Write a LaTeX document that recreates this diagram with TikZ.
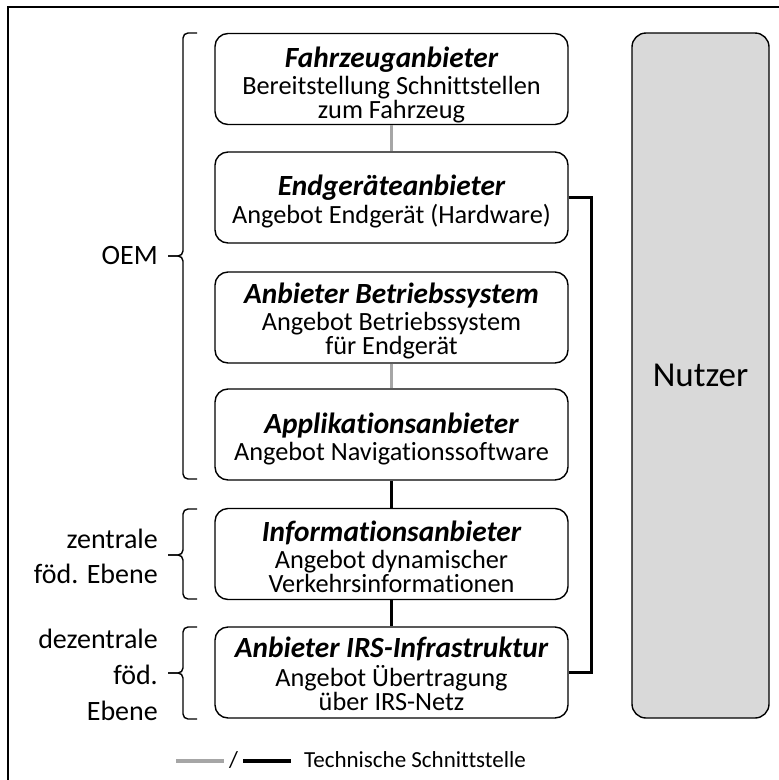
\documentclass[tikz,border=0pt]{standalone}
\usepackage{fontspec}
\setmainfont{Carlito}[Ligatures=CommonOff]
\definecolor{linkgray}{HTML}{A6A6A6}
\definecolor{userfill}{HTML}{D9D9D9}
\newcommand\provtitle[1]{{\fontsize{29.3}{26}\selectfont\bfseries\itshape #1}}
\begin{document}
\begin{tikzpicture}[x=1pt,y=-1pt,
  provider/.style={draw, line width=1.4pt, rounded corners=13pt,
    minimum width=353pt, minimum height=91pt, inner sep=0pt},
  provtext/.style={align=center, inner sep=0pt,
    font=\fontsize{26.3}{24}\selectfont},
  userbox/.style={draw, line width=1.4pt, rounded corners=14pt, fill=userfill,
    minimum width=137pt, minimum height=685pt, inner sep=0pt,
    font=\fontsize{35}{40}\selectfont},
  sidelabel/.style={anchor=east, align=right, inner sep=0pt},
  softlink/.style={draw=linkgray, line width=3pt},
  hardlink/.style={draw=black, line width=3pt},
  bracepath/.style={line width=1.4pt, rounded corners=5pt}]
\useasboundingbox (0,0) rectangle (779,780);

% outer frame
\begin{scope}
  \clip (0,0) rectangle (779,780);
  \draw[line width=2pt] (8,7) rectangle (795,795);
\end{scope}

% provider chain: boxes
\node[provider] (veh)  at (391.5,79)    {};
\node[provider] (dev)  at (391.5,197.5) {};
\node[provider] (os)   at (391.5,317.5) {};
\node[provider] (app)  at (391.5,434.5) {};
\node[provider] (info) at (391.5,554)   {};
\node[provider] (irs)  at (391.5,672.5) {};

% provider chain: texts (set slightly below the box centre)
\node[provtext] (vehtxt) at ([yshift=-6pt]veh.center)
  {\provtitle{Fahrzeuganbieter}\\[3pt]Bereitstellung Schnittstellen\\zum Fahrzeug};
\node[provtext] (devtxt) at ([yshift=-4pt]dev.center)
  {\provtitle{Endgeräteanbieter}\\[3pt]Angebot Endgerät (Hardware)};
\node[provtext] (ostxt) at ([yshift=-3.5pt]os.center)
  {\provtitle{Anbieter Betriebssystem}\\[3pt]Angebot Betriebssystem\\für Endgerät};
\node[provtext] (apptxt) at ([yshift=-4.5pt]app.center)
  {\provtitle{Applikationsanbieter}\\[3pt]Angebot Navigationssoftware};
\node[provtext] (infotxt) at ([yshift=-3pt]info.center)
  {\provtitle{Informationsanbieter}\\[3pt]Angebot dynamischer\\Verkehrsinformationen};
\node[provtext] (irstxt) at ([yshift=-1.5pt]irs.center)
  {\provtitle{Anbieter IRS-Infrastruktur}\\[3pt]Angebot Übertragung\\über IRS-Netz};

% user column
\node[userbox] (user) at (700.5,375.5) {Nutzer};

% interfaces
\draw[softlink] (veh) -- (dev);
\draw[softlink] (os) -- (app);
\draw[hardlink] (app) -- (info);
\draw[hardlink] (info) -- (irs);
\draw[hardlink] (dev.east) -- ++(23,0) |- (irs.east);

% grouping braces
\draw[bracepath] (197,33) -- (183,33) -- (183,256) -- (168,256);
\draw[bracepath] (168,256) -- (183,256) -- (183,479) -- (197,479);
\draw[bracepath] (197,509) -- (183,509) -- (183,555) -- (168,555);
\draw[bracepath] (168,555) -- (183,555) -- (183,599) -- (197,599);
\draw[bracepath] (197,627) -- (183,627) -- (183,673) -- (168,673);
\draw[bracepath] (168,673) -- (183,673) -- (183,719) -- (197,719);

% group labels
\node[sidelabel, font=\fontsize{28}{35}\selectfont] (oem) at (158,256) {OEM};
\node[sidelabel, font=\fontsize{28}{35}\selectfont] (central) at (158,556)
  {zentrale\\föd. Ebene};
\node[sidelabel, font=\fontsize{28}{36}\selectfont] (local) at (158,674.5)
  {dezentrale\\föd.\\Ebene};

% legend
\coordinate (lgA) at (176,761);
\coordinate (lgB) at (224,761);
\coordinate (lgC) at (243,761);
\coordinate (lgD) at (291,761);
\draw[draw=linkgray, line width=4pt] (lgA) -- (lgB);
\node[font=\fontsize{23}{26}\selectfont, inner sep=0pt] (slash) at (233.5,760) {/};
\draw[draw=black, line width=4pt] (lgC) -- (lgD);
\node[font=\fontsize{23}{26}\selectfont, anchor=west, inner sep=0pt] (legtxt) at (304,760)
  {Technische Schnittstelle};
\end{tikzpicture}
\end{document}
